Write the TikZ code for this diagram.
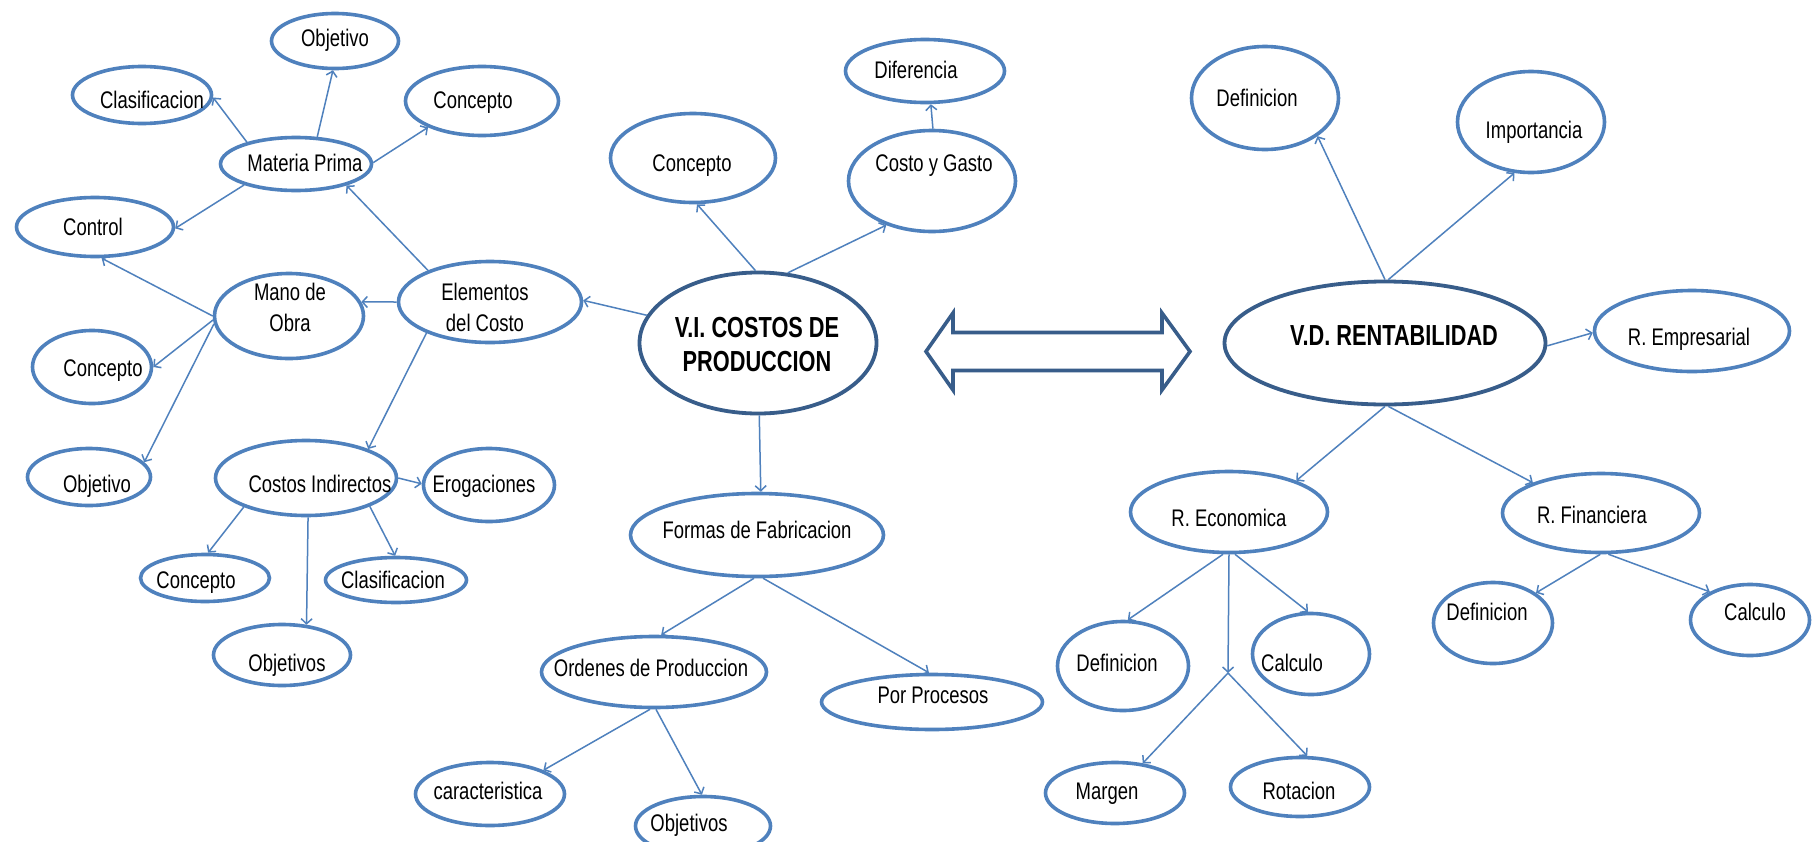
\documentclass[tikz,border=0pt]{standalone}
\usepackage{fontspec}
\setmainfont{Liberation Sans}
\newfontfamily\rgfont[FakeStretch=0.77]{Liberation Sans}
\newfontfamily\bdfont[FakeStretch=0.75]{Liberation Sans}
\usetikzlibrary{arrows.meta,shapes.geometric}
\definecolor{ocol}{HTML}{4F81BD}
\definecolor{mcol}{HTML}{385D8A}
\definecolor{lcol}{HTML}{4F81BD}
\tikzset{
 ov/.style={ellipse, draw=ocol, line width=3.6pt, fill=white, inner sep=0pt},
 mainov/.style={ov, draw=mcol, line width=3.8pt},
 txt/.style={anchor=base, inner sep=0pt, font=\rgfont\fontsize{24}{31}\selectfont},
 txttwo/.style={anchor=center, inner sep=0pt, align=center, font=\rgfont\fontsize{24}{31}\selectfont},
 btxt/.style={anchor=center, inner sep=0pt, align=center, font=\bdfont\bfseries\fontsize{29}{34}\selectfont},
 conn/.style={draw=lcol, line width=1.5pt, -{Straight Barb[length=5pt,width=11pt,line width=1.5pt]}},
 bigarrow/.style={draw=mcol, line width=3.6pt, fill=white, line join=miter},
}
% name, cx, cy, rx, ry, tx, ty, text
\newcommand{\mkov}[8]{%
 \node[ov, minimum width=#4*2pt-3pt, minimum height=#5*2pt-3pt] (#1) at (#2,#3) {};
 \node[txt] (#1-t) at (#6,#7+8.5) {#8};}
\begin{document}
\begin{tikzpicture}[x=1pt,y=-1pt]
\fill[white] (0,0) rectangle (1818,841);
\useasboundingbox (0,0) rectangle (1818,841);

% ---------- left cluster ----------
\mkov{obj1}{335}{41}{65}{29}{335}{38}{Objetivo}
\mkov{clas1}{142}{95}{71}{30}{152}{100}{Clasificacion}
\mkov{conc1}{482}{101}{78}{36}{473}{100}{Concepto}
\mkov{mp}{296}{164}{77}{28}{305}{163}{Materia Prima}
\mkov{ctrl}{95}{227}{80}{31}{93}{227}{Control}
\node[ov, minimum width=149pt, minimum height=85pt] (mo) at (289,316) {};
\node[txttwo] (mo-t) at (290,307) {Mano de\\Obra};
\node[ov, minimum width=183pt, minimum height=81pt] (el) at (490,302) {};
\node[txttwo] (el-t) at (485,307) {Elementos\\del Costo};
\mkov{conc2}{92}{367}{61}{38}{103}{368}{Concepto}
\mkov{obj2}{89}{477}{63}{30}{97}{484}{Objetivo}
\mkov{ci}{306}{478}{92}{39}{320}{484}{Costos Indirectos}
\mkov{ero}{489}{485}{67}{38}{484}{484}{Erogaciones}
\mkov{conc3}{205}{578}{66}{25}{196}{580}{Concepto}
\mkov{clas2}{396}{580}{72}{24}{393}{580}{Clasificacion}
\mkov{objs1}{282}{655}{70}{32}{287}{663}{Objetivos}
\mkov{car}{490}{794}{76}{33}{488}{791}{caracteristica}

% ---------- centre cluster ----------
\node[mainov, minimum width=237pt, minimum height=141pt] (vi) at (758,343) {};
\node[btxt] (vi-t) at (757,345) {V.I. COSTOS DE\\PRODUCCION};
\mkov{concc}{693}{158}{84}{46}{692}{163}{Concepto}
\mkov{cg}{932}{181}{85}{52}{934}{163}{Costo y Gasto}
\mkov{dif}{925}{71}{81}{33}{916}{70}{Diferencia}
\mkov{ff}{757}{535}{128}{43}{757}{530}{Formas de Fabricacion}
\mkov{op}{654}{672}{114}{37}{651}{668}{Ordenes de Produccion}
\mkov{pp}{932}{702}{112}{29}{933}{695}{Por Procesos}
\mkov{objs2}{703}{826}{69}{31}{689}{823}{Objetivos}

% ---------- double arrow ----------
\draw[bigarrow] (926,351.5) -- (953,313) -- (953,332.5) -- (1162,332.5) -- (1162,313)
  -- (1190,351.5) -- (1162,390) -- (1162,370.5) -- (953,370.5) -- (953,390) -- cycle;

% ---------- right cluster ----------
\node[mainov, minimum width=321pt, minimum height=123pt] (vd) at (1385,343) {};
\node[btxt, anchor=base] (vd-t) at (1394,345.5) {V.D. RENTABILIDAD};
\mkov{def1}{1265}{98}{75}{53}{1257}{98}{Definicion}
\mkov{imp}{1531}{122}{75}{52}{1534}{130}{Importancia}
\mkov{remp}{1692}{331}{99}{42}{1689}{337}{R. Empresarial}
\mkov{reco}{1229}{512}{100}{42}{1229}{518}{R. Economica}
\mkov{rfin}{1601}{513}{100}{41}{1592}{515}{R. Financiera}
\mkov{def2}{1123}{666}{67}{46}{1117}{663}{Definicion}
\mkov{calc1}{1311}{654}{60}{42}{1292}{663}{Calculo}
\mkov{marg}{1115}{793}{71}{32}{1107}{791}{Margen}
\mkov{rot}{1300}{787}{71}{31}{1299}{791}{Rotacion}
\mkov{def3}{1493}{623}{61}{42}{1487}{612}{Definicion}
\mkov{calc2}{1750}{620}{61}{37}{1755}{612}{Calculo}
\coordinate (br) at (1228,673);

% ---------- connectors ----------
\draw[conn] (vi.166) -- (el.1);
\draw[conn] (vi.92) -- (concc.275);
\draw[conn] (vi.67) -- (cg.224);
\draw[conn] (vi.271) -- (ff.85);
\draw[conn] (cg.89) -- (dif.280);
\draw[conn] (el.153) -- (mp.337);
\draw[conn] (el.180) -- (mo.11);
\draw[conn] (el.206) -- (ci.25);
\draw[conn] (mp.156) -- (clas1.358);
\draw[conn] (mp.52) -- (obj1.266);
\draw[conn] (mp.1) -- (conc1.206);
\draw[conn] (mp.202) -- (ctrl.359);
\draw[conn] (mo.180) -- (ctrl.282);
\draw[conn] (mo.183) -- (conc2.0);
\draw[conn] (mo.186) -- (obj2.15);
\draw[conn] (ci.0) -- (ero.179);
\draw[conn] (ci.205) -- (conc3.83);
\draw[conn] (ci.273) -- (objs1.51);
\draw[conn] (ci.336) -- (clas2.92);
\draw[conn] (ff.266) -- (op.79);
\draw[conn] (ff.278) -- (pp.96);
\draw[conn] (op.264) -- (car.24);
\draw[conn] (op.273) -- (objs2.92);
\draw[conn] (vd.90) -- (def1.324);
\draw[conn] (vd.87) -- (imp.252);
\draw[conn] (vd.359) -- (remp.181);
\draw[conn] (vd.270) -- (reco.25);
\draw[conn] (vd.273) -- (rfin.156);
\draw[conn] (reco.262) -- (def2.84);
\draw[conn] (reco.278) -- (calc1.94);
\draw[conn] (reco.270) -- (br);
\draw[conn] (br) -- (marg.47);
\draw[conn] (br) -- (rot.77);
\draw[conn] (rfin.269) -- (def3.35);
\draw[conn] (rfin.280) -- (calc2.145);
\end{tikzpicture}
\end{document}
